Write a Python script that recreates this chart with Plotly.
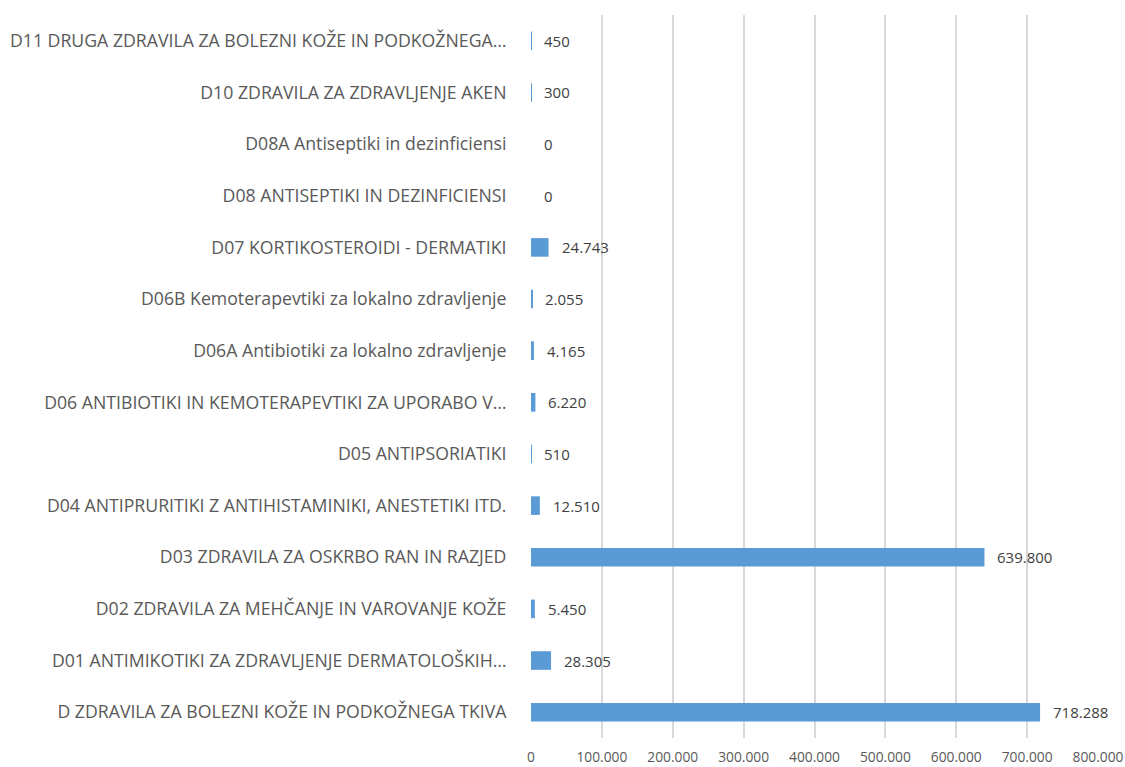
import plotly.graph_objects as go

# ATC group D (dermatologicals) – categories listed bottom to top
categories = [
    "D ZDRAVILA ZA BOLEZNI KOŽE IN PODKOŽNEGA TKIVA",
    "D01 ANTIMIKOTIKI ZA ZDRAVLJENJE DERMATOLOŠKIH…",
    "D02 ZDRAVILA ZA MEHČANJE IN VAROVANJE KOŽE",
    "D03 ZDRAVILA ZA OSKRBO RAN IN RAZJED",
    "D04 ANTIPRURITIKI Z ANTIHISTAMINIKI, ANESTETIKI ITD.",
    "D05 ANTIPSORIATIKI",
    "D06 ANTIBIOTIKI IN KEMOTERAPEVTIKI ZA UPORABO V…",
    "D06A Antibiotiki za lokalno zdravljenje",
    "D06B Kemoterapevtiki za lokalno zdravljenje",
    "D07 KORTIKOSTEROIDI - DERMATIKI",
    "D08 ANTISEPTIKI IN DEZINFICIENSI",
    "D08A Antiseptiki in dezinficiensi",
    "D10 ZDRAVILA ZA ZDRAVLJENJE AKEN",
    "D11 DRUGA ZDRAVILA ZA BOLEZNI KOŽE IN PODKOŽNEGA…",
]
values = [718288, 28305, 5450, 639800, 12510, 510, 6220, 4165, 2055, 24743, 0, 0, 300, 450]

x_ticks = [0, 100000, 200000, 300000, 400000, 500000, 600000, 700000, 800000]


def fmt(v):
    return f"{v:,}".replace(",", ".")


FONT = "Open Sans, Calibri, sans-serif"
TEXT_GREY = "#595959"

fig = go.Figure(
    go.Bar(
        x=values,
        y=categories,
        orientation="h",
        marker=dict(color="#5b9bd5", line=dict(width=0)),
        width=0.36,
        hoverinfo="skip",
    )
)

for v, c in zip(values, categories):
    fig.add_annotation(
        x=v, y=c, text=fmt(v), showarrow=False,
        xanchor="left", xshift=11,
        font=dict(family=FONT, size=15, color="#404040"),
    )

fig.update_layout(
    width=1125, height=767,
    margin=dict(l=531, r=27, t=15, b=29),
    paper_bgcolor="white", plot_bgcolor="white",
    showlegend=False,
    separators=",.",
    font=dict(family=FONT, color=TEXT_GREY),
)
fig.update_xaxes(
    range=[0, 800000],
    tickvals=x_ticks,
    ticktext=[fmt(t) for t in x_ticks],
    showgrid=True, gridcolor="#d9d9d9", gridwidth=2,
    zeroline=False, showline=False,
    ticks="outside", ticklen=6, tickcolor="rgba(0,0,0,0)",
    tickfont=dict(family=FONT, size=13.8, color=TEXT_GREY),
    automargin=False,
)
fig.update_yaxes(
    categoryorder="array", categoryarray=categories,
    range=[-0.5, len(categories) - 0.5],
    showgrid=False, zeroline=False, showline=False,
    ticks="outside", ticklen=20, tickcolor="rgba(0,0,0,0)",
    tickfont=dict(family=FONT, size=17.7, color=TEXT_GREY),
    automargin=False,
)

fig.write_html("out.html")
